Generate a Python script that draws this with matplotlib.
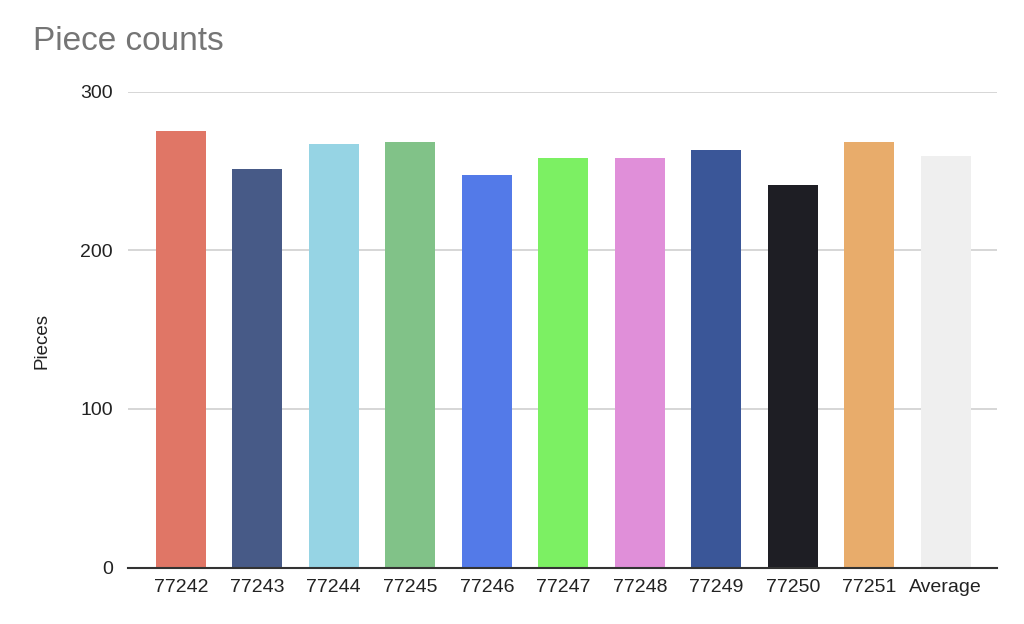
import matplotlib
matplotlib.use("Agg")
import matplotlib.pyplot as plt
import numpy as np

categories = ["77242", "77243", "77244", "77245", "77246", "77247", "77248", "77249", "77250", "77251"]
pieces = [275, 251, 267, 268, 247.5, 258, 258, 263, 241, 268]
average_label = "Average"
average_value = float(np.mean(pieces))
colors = ["#E07666", "#475A87", "#96D4E4", "#81C288", "#537AE8", "#7CF063",
          "#E08FD9", "#3A5698", "#1E1E24", "#E8AC6B", "#EFEFEF"]
yticks = [0, 100, 200, 300]

labels = categories + [average_label]
values = pieces + [average_value]

plt.rcParams['font.family'] = ['Liberation Sans', 'DejaVu Sans']

fig = plt.figure(figsize=(10.24, 6.24), dpi=100)
ax = fig.add_axes([128/1024, 56.5/624, (997-128)/1024, (567.5-91.7)/624])

x = np.arange(len(labels))
ax.bar(x, values, width=0.65, color=colors, zorder=3)

ax.set_xlim(-0.69, len(labels) - 1 + 0.67)
ax.set_ylim(0, 300)
ax.set_yticks(yticks)
ax.set_xticks(x)
ax.set_xticklabels(labels)
ax.tick_params(axis='both', length=0, labelsize=14, colors='#222222')
ax.tick_params(axis='y', pad=11)
ax.tick_params(axis='x', pad=8)

ax.grid(axis='y', color='#D0D0D0', linewidth=1.2, zorder=0)
for s in ['top', 'right', 'left']:
    ax.spines[s].set_visible(False)
ax.spines['bottom'].set_color('#333333')
ax.spines['bottom'].set_linewidth(1.5)
ax.spines['bottom'].set_zorder(4)

fig.text(33/1024, 1 - 42/624, "Piece counts", fontsize=24, color='#757575', va='center', ha='left')
fig.text(42/1024, 1 - 341/624, "Pieces", fontsize=13.5, color='#222222', rotation=90, va='center', ha='center')

fig.savefig("out.png", dpi=100)
